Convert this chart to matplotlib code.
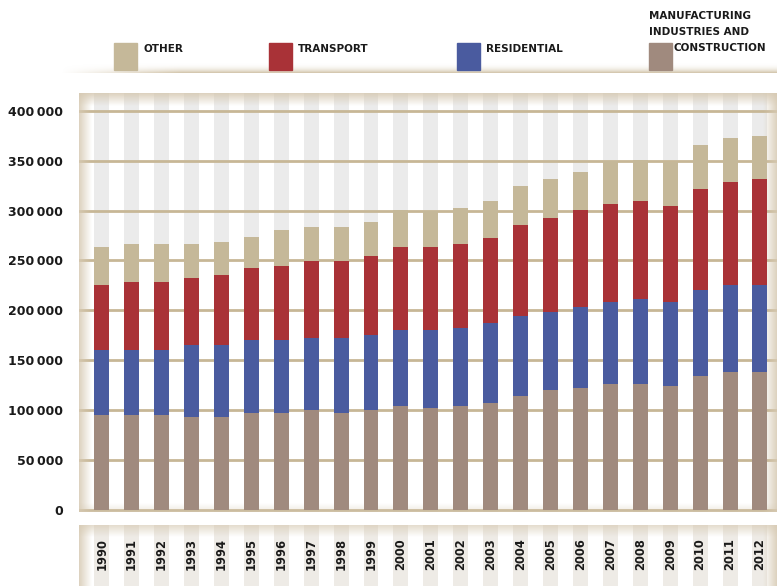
import numpy as np
import matplotlib.pyplot as plt
from matplotlib.patches import Rectangle

plt.rcParams['font.family'] = ['DejaVu Sans']

years = list(range(1990, 2013))
# cumulative tops, in thousands
manuf = [95, 95, 95, 92.5, 92.5, 97, 97, 100, 97.5, 100, 104.5, 102, 104.5, 107, 114.5, 120, 122, 126.5, 126.5, 124, 134, 138, 138]
resid_top = [160, 160, 160, 165, 165, 170, 170, 172.5, 172.5, 175, 180, 180, 182.5, 187.5, 194, 198.5, 203.5, 208.5, 211, 208.5, 220, 225, 225]
trans_top = [225, 228, 228, 232.5, 235, 242, 244.5, 249.5, 249.5, 254, 264, 264, 267, 273, 286, 292.5, 300.5, 307, 310, 305, 321.5, 329, 331.5]
total = [264, 266.5, 266.5, 266.5, 269, 273.5, 281, 284, 284, 288.5, 300.5, 300, 303, 309.5, 325, 331.5, 339, 350, 350.5, 349, 365.5, 372.5, 375]

manuf = np.array(manuf) * 1000
resid = np.array(resid_top) * 1000 - manuf
trans = np.array(trans_top) * 1000 - np.array(resid_top) * 1000
other = np.array(total) * 1000 - np.array(trans_top) * 1000

yticks = [0, 50000, 100000, 150000, 200000, 250000, 300000, 350000, 400000]

c_other = '#c5b899'
c_trans = '#a93237'
c_resid = '#4a5b9f'
c_manuf = '#a08a7e'
c_grid = '#c7b796'
c_stripe = '#ebebeb'
beige = (0.84, 0.79, 0.70)

W, H = 777, 586
fig = plt.figure(figsize=(W / 100, H / 100), dpi=100)


def fade(ax, side, frac, amax=0.85, z=1.5):
    n = 64
    a = np.linspace(amax, 0, n)
    if side in ('top', 'bottom'):
        img = np.zeros((n, 1, 4))
        img[..., :3] = beige
        img[:, 0, 3] = a if side == 'top' else a[::-1]
        ext = (0, 1, 1 - frac, 1) if side == 'top' else (0, 1, 0, frac)
    else:
        img = np.zeros((1, n, 4))
        img[..., :3] = beige
        img[0, :, 3] = a if side == 'left' else a[::-1]
        ext = (0, frac, 0, 1) if side == 'left' else (1 - frac, 1, 0, 1)
    ax.imshow(img, extent=ext, transform=ax.transAxes, aspect='auto',
              origin='upper', zorder=z, interpolation='bilinear')


# main panel
ax = fig.add_axes([79 / W, 1 - 512 / H, 698 / W, 419 / H])
x = np.arange(len(years))
ax.bar(x, 430000, width=0.5, bottom=-5000, color=c_stripe, zorder=0)
for t in yticks:
    ax.axhline(t, color=c_grid, lw=2, zorder=1)
ax.bar(x, manuf, width=0.5, color=c_manuf, zorder=2)
ax.bar(x, resid, width=0.5, bottom=manuf, color=c_resid, zorder=2)
ax.bar(x, trans, width=0.5, bottom=manuf + resid, color=c_trans, zorder=2)
ax.bar(x, other, width=0.5, bottom=manuf + resid + trans, color=c_other, zorder=2)
fade(ax, 'top', 0.03)
fade(ax, 'left', 0.018)
fade(ax, 'right', 0.02)
fade(ax, 'bottom', 0.02, amax=0.4)
ax.set_xlim(-0.76, 22.57)
ax.set_ylim(-2300, 418000)
ax.set_xticks([])
ax.set_yticks(yticks)
ax.set_yticklabels([f'{t:,}'.replace(',', '\u2009') for t in yticks],
                   fontsize=9, fontweight='bold', color='#1a1a1a')
ax.tick_params(axis='y', length=0, pad=11.5)
for s in ax.spines.values():
    s.set_visible(False)

# year label panel
ax2 = fig.add_axes([79 / W, 0, 698 / W, 61 / H])
ax2.bar(x, 1, width=0.5, color='#eeebe6', zorder=0)
fade(ax2, 'top', 0.2, amax=0.7)
fade(ax2, 'left', 0.018)
fade(ax2, 'right', 0.02)
for i, yr in enumerate(years):
    ax2.text(i, 0.52, str(yr), rotation=90, ha='center', va='center',
             fontsize=8.3, fontweight='bold', color='#1a1a1a', zorder=3)
ax2.set_xlim(-0.76, 22.57)
ax2.set_ylim(0, 1)
ax2.axis('off')

# shadow line under legend
axl = fig.add_axes([60 / W, 1 - 73 / H, 717 / W, 12 / H])
gy = np.linspace(0, 1, 40)[:, None] ** 3
gx = np.clip(np.linspace(0, 6, 200)[None, :], 0, 1)
img = np.zeros((40, 200, 4))
img[..., :3] = (0.80, 0.74, 0.62)
img[..., 3] = gy * gx * 0.9
axl.imshow(img, aspect='auto', origin='upper', extent=(0, 1, 0, 1), interpolation='bilinear')
axl.axis('off')

# legend
def fy(py):
    return 1 - py / H

items = [(114, c_other, 'OTHER'), (269, c_trans, 'TRANSPORT'), (457, c_resid, 'RESIDENTIAL')]
for px, col, lab in items:
    fig.patches.append(Rectangle((px / W, fy(70)), 23 / W, 27 / H, color=col,
                                 transform=fig.transFigure, figure=fig))
    fig.text((px + 29) / W, fy(49), lab, fontsize=7.5, fontweight='bold',
             color='#1a1a1a', va='center', ha='left')
fig.patches.append(Rectangle((649 / W, fy(70)), 23 / W, 27 / H, color=c_manuf,
                             transform=fig.transFigure, figure=fig))
fig.text(649 / W, fy(16), 'MANUFACTURING', fontsize=7.5, fontweight='bold', color='#1a1a1a', va='center')
fig.text(649 / W, fy(32), 'INDUSTRIES AND', fontsize=7.5, fontweight='bold', color='#1a1a1a', va='center')
fig.text(673 / W, fy(48), 'CONSTRUCTION', fontsize=7.5, fontweight='bold', color='#1a1a1a', va='center')

fig.savefig('out.png', dpi=100)
